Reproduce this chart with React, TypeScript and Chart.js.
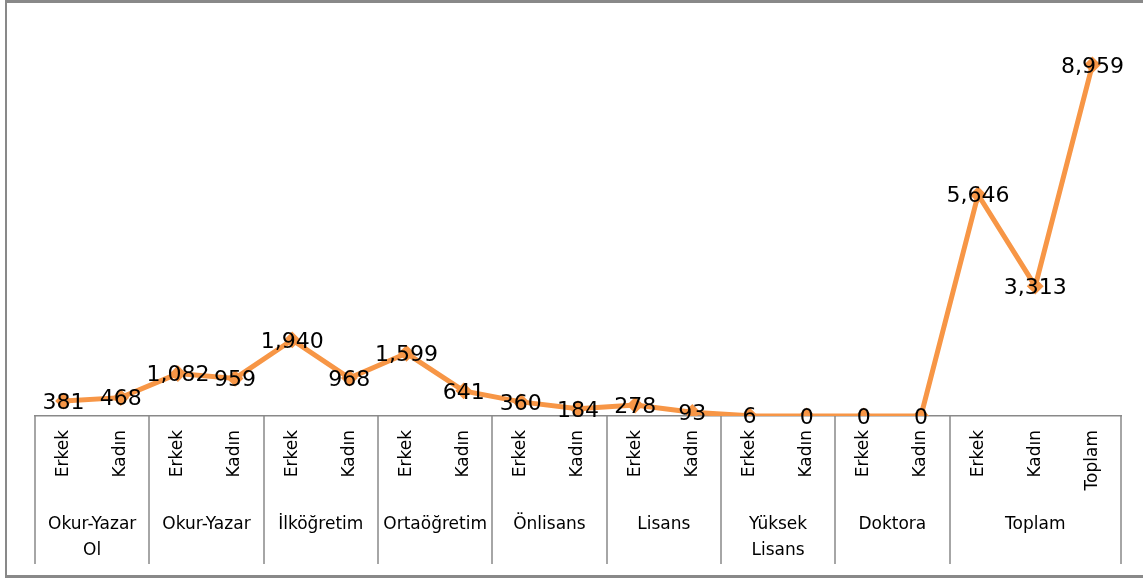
import React, { useEffect, useRef } from "react";
import { Chart, registerables } from "chart.js";

Chart.register(...registerables);

const leafLabels = [
  "Erkek", "Kadın", "Erkek", "Kadın", "Erkek", "Kadın", "Erkek", "Kadın",
  "Erkek", "Kadın", "Erkek", "Kadın", "Erkek", "Kadın", "Erkek", "Kadın",
  "Erkek", "Kadın", "Toplam",
];
const values = [381, 468, 1082, 959, 1940, 968, 1599, 641, 360, 184, 278, 93, 6, 0, 0, 0, 5646, 3313, 8959];
const groupLabels: (string | string[])[] = [
  ["Okur-Yazar", "Ol"], "Okur-Yazar", "İlköğretim", "Ortaöğretim", "Önlisans",
  "Lisans", ["Yüksek", "Lisans"], "Doktora", "Toplam",
];
const groupSizes = [2, 2, 2, 2, 2, 2, 2, 2, 3];

const FONT = "'DejaVu Sans', sans-serif";
const ORANGE = "#F79646";
const GRAY = "#898989";

export default function App() {
  const ref = useRef<HTMLCanvasElement | null>(null);
  useEffect(() => {
    document.body.style.margin = "0";
    const centers: number[] = [];
    const bounds: number[] = [-0.5];
    let start = 0;
    for (const s of groupSizes) {
      centers.push(start + (s - 1) / 2);
      start += s;
      bounds.push(start - 0.5);
    }
    const labelPlugin = {
      id: "valueLabels",
      afterDatasetsDraw(chart: any) {
        const ctx = chart.ctx;
        const meta = chart.getDatasetMeta(0);
        ctx.save();
        ctx.font = `22px ${FONT}`;
        ctx.fillStyle = "#000";
        ctx.textAlign = "center";
        ctx.textBaseline = "middle";
        meta.data.forEach((pt: any, i: number) => {
          ctx.fillText(values[i].toLocaleString("en-US"), pt.x, pt.y + 2);
        });
        ctx.restore();
      },
    };
    const framePlugin = {
      id: "frame",
      afterDraw(chart: any) {
        const ctx = chart.ctx;
        const xs = chart.scales.x;
        const top = chart.chartArea.bottom;
        const step = xs.getPixelForValue(1) - xs.getPixelForValue(0);
        ctx.save();
        ctx.strokeStyle = GRAY;
        ctx.lineWidth = 1.5;
        bounds.forEach((b) => {
          const px = Math.round(xs.getPixelForValue(0) + (b * step));
          ctx.beginPath();
          ctx.moveTo(px, top);
          ctx.lineTo(px, 564);
          ctx.stroke();
        });
        ctx.fillStyle = GRAY;
        ctx.fillRect(5, 0, 1143, 3);
        ctx.fillRect(5, 0, 2, 578);
        ctx.fillRect(5, 575, 1143, 3);
        ctx.restore();
      },
    };
    const chart = new Chart(ref.current as HTMLCanvasElement, {
      type: "line",
      data: {
        labels: leafLabels,
        datasets: [
          {
            data: values,
            borderColor: ORANGE,
            backgroundColor: ORANGE,
            borderWidth: 5,
            pointStyle: "rectRot",
            pointRadius: 7,
            pointBorderWidth: 2,
            pointBackgroundColor: ORANGE,
            pointBorderColor: ORANGE,
            tension: 0,
            xAxisID: "x",
            yAxisID: "y",
          },
        ],
      },
      options: {
        animation: false,
        responsive: false,
        maintainAspectRatio: false,
        layout: { padding: { left: 35, right: 22, top: 24, bottom: 0 } },
        plugins: { legend: { display: false }, tooltip: { enabled: false } },
        scales: {
          y: { display: false, min: 0, max: 10000 },
          x: {
            type: "category",
            position: "bottom",
            weight: 0,
            offset: true,
            grid: { display: false },
            border: { display: true, color: GRAY, width: 1.5 },
            ticks: {
              autoSkip: false,
              maxRotation: 90,
              minRotation: 90,
              padding: 6,
              color: "#000",
              font: { family: FONT, size: 17 },
            },
            afterFit: (s: any) => {
              s.height = 88;
            },
          },
          x2: {
            type: "linear",
            position: "bottom",
            weight: 1,
            min: -0.5,
            max: 18.5,
            grid: { display: false },
            border: { display: false },
            afterBuildTicks: (axis: any) => {
              axis.ticks = centers.map((v) => ({ value: v }));
            },
            ticks: {
              autoSkip: false,
              maxRotation: 0,
              minRotation: 0,
              padding: 0,
              color: "#000",
              font: { family: FONT, size: 17, lineHeight: 1.5 },
              callback: (_v: any, i: number) => groupLabels[i] as any,
            },
            afterFit: (s: any) => {
              s.height = 74;
            },
          },
        },
      },
      plugins: [labelPlugin, framePlugin],
    });
    return () => chart.destroy();
  }, []);
  return (
    <div style={{ position: "fixed", left: 0, top: 0, width: 1143, height: 578, background: "#fff" }}>
      <canvas ref={ref} width={1143} height={578} style={{ width: 1143, height: 578 }} />
    </div>
  );
}
